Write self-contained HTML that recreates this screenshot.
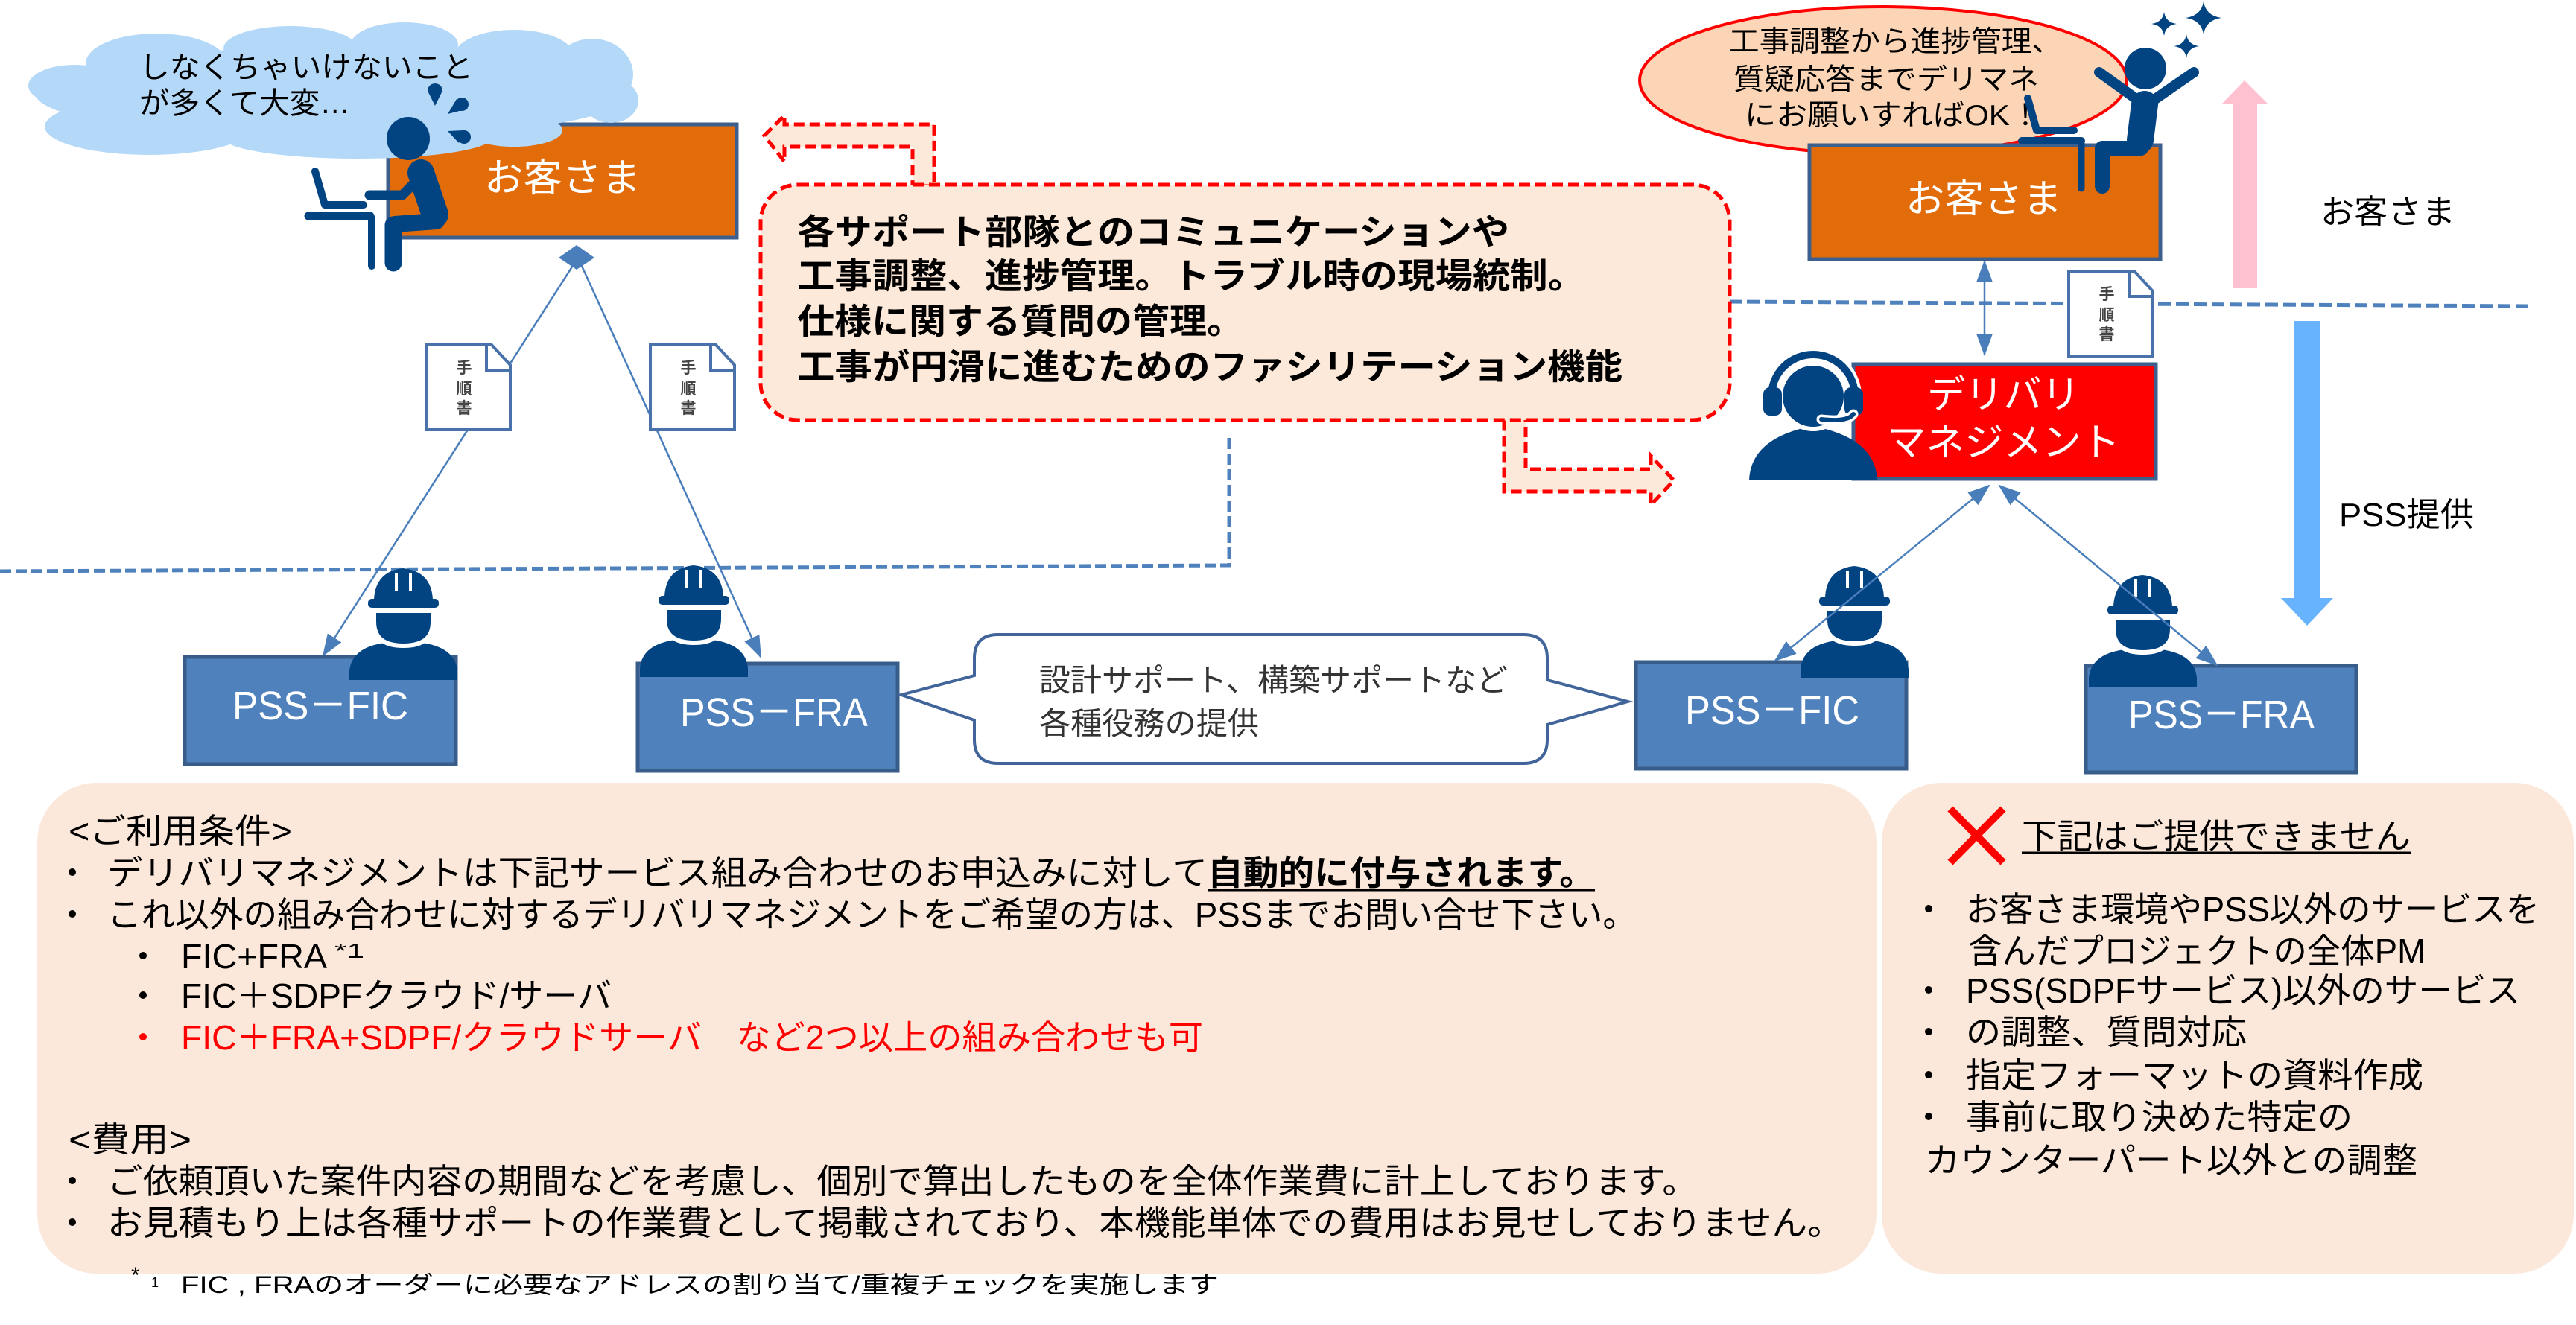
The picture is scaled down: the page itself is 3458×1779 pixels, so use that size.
<!DOCTYPE html>
<html><head><meta charset="utf-8">
<style>
html,body{margin:0;padding:0;background:#fff;}
svg{display:block;}
text{font-family:"Liberation Sans","Noto Sans CJK JP",sans-serif;}
</style></head><body>
<svg width="3458" height="1779" viewBox="0 0 3458 1779" xmlns="http://www.w3.org/2000/svg">
<defs>
<marker id="a" viewBox="0 0 30 22" markerWidth="30" markerHeight="22" refX="28" refY="11" orient="auto-start-reverse" markerUnits="userSpaceOnUse"><path d="M0,0L30,11L0,22Z" fill="#4a7ebb"/></marker>
<g id="wk" fill="#024382">
 <path d="M0,150 L0,138 Q3,106 48,100 L97,100 Q142,106 145,138 L145,150 Z"/>
 <path d="M33,57 L112,57 L112,72 Q112,104 72.5,104 Q33,104 33,72 Z" stroke="#fff" stroke-width="6"/>
 <path d="M33,42 Q35,4 72,0 Q110,4 112,42 Z"/>
 <rect x="25" y="41" width="95" height="12" rx="5"/>
 <path d="M63,6 L63,30 M82,6 L82,30" stroke="#fff" stroke-width="4"/>
</g>
<g id="doc">
 <path d="M0,0 H88 L113,27 V114 H0 Z" fill="#fff" stroke="#4a72aa" stroke-width="4"/>
 <path d="M81,2 V34 H111" fill="none" stroke="#4a72aa" stroke-width="4"/>
 <text x="51" y="38" font-size="21" font-weight="bold" fill="#444" text-anchor="middle">手</text>
 <text x="51" y="66" font-size="21" font-weight="bold" fill="#444" text-anchor="middle">順</text>
 <text x="51" y="92" font-size="21" font-weight="bold" fill="#444" text-anchor="middle">書</text>
</g>
</defs>

<!-- bottom panels -->
<rect x="50" y="1051" width="2469" height="659" rx="80" fill="#fce8da"/>
<rect x="2526" y="1051" width="929" height="659" rx="80" fill="#fce8da"/>

<!-- dashed blue lines -->
<polyline points="0,767 1650,759 1650,583" fill="none" stroke="#4f81bd" stroke-width="5" stroke-dasharray="15 6"/>
<line x1="2321" y1="405" x2="3400" y2="411" stroke="#4f81bd" stroke-width="5" stroke-dasharray="17 7"/>

<!-- left customer box -->
<rect x="521" y="167" width="468" height="152" fill="#e36c0a" stroke="#3d5f8d" stroke-width="5"/>
<!-- cloud -->
<g fill="#b4d8f8">
 <ellipse cx="447" cy="125" rx="400" ry="62"/>
 <ellipse cx="210" cy="85" rx="95" ry="40"/>
 <ellipse cx="390" cy="65" rx="90" ry="30"/>
 <ellipse cx="543" cy="60" rx="72" ry="30"/>
 <ellipse cx="690" cy="75" rx="80" ry="35"/>
 <ellipse cx="795" cy="100" rx="55" ry="48"/>
 <ellipse cx="820" cy="135" rx="37" ry="30"/>
 <ellipse cx="100" cy="115" rx="62" ry="28"/>
 <ellipse cx="200" cy="170" rx="140" ry="38"/>
 <ellipse cx="480" cy="185" rx="180" ry="28"/>
 <ellipse cx="690" cy="175" rx="65" ry="22"/>
</g>
<text x="187" y="104" font-size="40" textLength="448" lengthAdjust="spacingAndGlyphs">しなくちゃいけないこと</text>
<text x="187" y="152" font-size="40" textLength="283" lengthAdjust="spacingAndGlyphs">が多くて大変…</text>
<text x="650" y="257" font-size="52" fill="#fff" textLength="210" lengthAdjust="spacingAndGlyphs">お客さま</text>

<!-- sitting person left -->
<g stroke="#024382" stroke-linecap="round" fill="none">
 <path d="M423,230 L436,275 L488,275" stroke-width="10" stroke-linejoin="round"/>
 <line x1="414" y1="290" x2="497" y2="290" stroke-width="11"/>
 <line x1="499" y1="293" x2="499" y2="357" stroke-width="10"/>
 <line x1="565" y1="232" x2="584" y2="288" stroke-width="36"/>
 <path d="M562,240 L540,262 L496,262" stroke-width="13" stroke-linejoin="round"/>
 <line x1="530" y1="301" x2="586" y2="297" stroke-width="22"/>
 <line x1="528" y1="302" x2="528" y2="353" stroke-width="23"/>
</g>
<circle cx="548" cy="186" r="29" fill="#024382"/>
<g fill="#024382">
 <path d="M584,142 L574,122 A10,10 0 1 1 594,122 Z"/>
 <circle cx="620" cy="140" r="9"/><polygon points="601,153 613,133 628,146"/>
 <circle cx="623" cy="184" r="9"/><polygon points="601,176 622,175 616,192"/>
</g>

<!-- left connectors -->
<g stroke="#4a7ebb" stroke-width="2.5">
 <line x1="770" y1="355" x2="434" y2="880" marker-end="url(#a)"/>
 <line x1="780" y1="355" x2="1021" y2="882" marker-end="url(#a)"/>
</g>
<polygon points="774,329 798,346 774,362 750,346" fill="#4a7ebb"/>
<use href="#doc" x="572" y="463"/>
<use href="#doc" x="873" y="463"/>

<!-- callout arrows -->
<g fill="#fde9d9" stroke="#ff0000" stroke-width="5" stroke-dasharray="14 7">
 <polygon points="1026,182 1053,155 1053,167 1254,167 1254,250 1225,250 1225,197 1053,197 1053,217"/>
 <polygon points="2019,560 2048,560 2048,630 2216,630 2216,612 2247,645 2216,678 2216,660 2019,660"/>
</g>
<rect x="1021" y="248" width="1301" height="316" rx="50" fill="#fde9d9" stroke="#ff0000" stroke-width="5" stroke-dasharray="15 7"/>
<g font-size="47" font-weight="bold">
 <text x="1070" y="328" textLength="956" lengthAdjust="spacingAndGlyphs">各サポート部隊とのコミュニケーションや</text>
 <text x="1070" y="387" textLength="1058" lengthAdjust="spacingAndGlyphs">工事調整、進捗管理。トラブル時の現場統制。</text>
 <text x="1070" y="448" textLength="600" lengthAdjust="spacingAndGlyphs">仕様に関する質問の管理。</text>
 <text x="1070" y="509" textLength="1108" lengthAdjust="spacingAndGlyphs">工事が円滑に進むためのファシリテーション機能</text>
</g>

<!-- right top -->
<ellipse cx="2528" cy="108" rx="327" ry="99" fill="#fbd5b5" stroke="#ff0000" stroke-width="4"/>
<g font-size="39">
 <text x="2321" y="69" textLength="447" lengthAdjust="spacingAndGlyphs">工事調整から進捗管理、</text>
 <text x="2327" y="120" textLength="410" lengthAdjust="spacingAndGlyphs">質疑応答までデリマネ</text>
 <text x="2342" y="168" textLength="398" lengthAdjust="spacingAndGlyphs">にお願いすればOK！</text>
</g>
<rect x="2429" y="195" width="471" height="153" fill="#e36c0a" stroke="#3d5f8d" stroke-width="5"/>
<text x="2558" y="285" font-size="52" fill="#fff" textLength="210" lengthAdjust="spacingAndGlyphs">お客さま</text>
<!-- arms up person -->
<g stroke="#024382" stroke-linecap="round" fill="none">
 <path d="M2722,132 L2734,175 L2784,175" stroke-width="10" stroke-linejoin="round"/>
 <line x1="2714" y1="189" x2="2794" y2="189" stroke-width="10"/>
 <line x1="2794" y1="191" x2="2794" y2="253" stroke-width="9"/>
 <line x1="2818" y1="97" x2="2868" y2="133" stroke-width="14"/>
 <line x1="2945" y1="97" x2="2893" y2="133" stroke-width="14"/>
 <line x1="2879" y1="140" x2="2873" y2="188" stroke-width="36"/>
 <line x1="2822" y1="199" x2="2874" y2="199" stroke-width="20"/>
 <line x1="2822" y1="200" x2="2822" y2="250" stroke-width="20"/>
</g>
<circle cx="2880" cy="92" r="28" fill="#024382"/>
<g fill="#024382">
 <path d="M2958,2 Q2961,21 2982,24 Q2961,27 2958,46 Q2955,27 2934,24 Q2955,21 2958,2 Z"/>
 <path d="M2905,16 Q2907,30 2922,32 Q2907,34 2905,48 Q2903,34 2888,32 Q2903,30 2905,16 Z"/>
 <path d="M2935,46 Q2937,60 2952,62 Q2937,64 2935,78 Q2933,64 2918,62 Q2933,60 2935,46 Z"/>
</g>
<!-- pink & blue arrows -->
<polygon points="3013,108 3045,140 3030,140 3030,387 2998,387 2998,140 2982,140" fill="#ffc1cf"/>
<polygon points="3079,431 3114,431 3114,803 3132,803 3097,840 3062,803 3079,803" fill="#67b3fe"/>
<text x="3115" y="300" font-size="45" textLength="181" lengthAdjust="spacingAndGlyphs">お客さま</text>
<text x="3140" y="706" font-size="44" textLength="181" lengthAdjust="spacingAndGlyphs">PSS提供</text>

<!-- delivery -->
<rect x="2488" y="489" width="406" height="154" fill="#ff0000" stroke="#3d5f8d" stroke-width="5"/>
<text x="2587" y="548" font-size="52" fill="#fff" textLength="205" lengthAdjust="spacingAndGlyphs">デリバリ</text>
<text x="2533" y="612" font-size="52" fill="#fff" textLength="313" lengthAdjust="spacingAndGlyphs">マネジメント</text>
<g fill="#024382">
 <path d="M2348,645 Q2350,588 2433,572 Q2518,588 2520,645 Z"/>
 <circle cx="2434" cy="532" r="44" stroke="#fff" stroke-width="6"/>
 <path d="M2378,532 A56,56 0 0 1 2490,532" fill="none" stroke="#fff" stroke-width="18"/>
 <path d="M2378,532 A56,56 0 0 1 2490,532" fill="none" stroke="#024382" stroke-width="10"/>
 <rect x="2367" y="520" width="25" height="38" rx="9"/>
 <rect x="2476" y="520" width="25" height="38" rx="9"/>
 <path d="M2488,556 Q2480,567 2445,563" fill="none" stroke="#fff" stroke-width="13" stroke-linecap="round"/>
 <path d="M2488,556 Q2480,567 2445,563" fill="none" stroke="#024382" stroke-width="6" stroke-linecap="round"/>
</g>
<use href="#doc" x="2777" y="364"/>

<!-- right connectors -->
<g stroke="#4a7ebb" stroke-width="2.5">
 <line x1="2664" y1="351" x2="2664" y2="476" marker-start="url(#a)" marker-end="url(#a)"/>
</g>

<!-- PSS boxes -->
<g fill="#4f81bd" stroke="#385d8a" stroke-width="5">
 <rect x="248" y="882" width="364" height="144"/>
 <rect x="856" y="891" width="349" height="144"/>
 <rect x="2196" y="889" width="363" height="143"/>
 <rect x="2800" y="894" width="363" height="143"/>
</g>
<g font-size="54" fill="#fff">
 <text x="312" y="966" textLength="236" lengthAdjust="spacingAndGlyphs">PSS－FIC</text>
 <text x="913" y="975" textLength="252" lengthAdjust="spacingAndGlyphs">PSS－FRA</text>
 <text x="2262" y="972" textLength="234" lengthAdjust="spacingAndGlyphs">PSS－FIC</text>
 <text x="2857" y="978" textLength="250" lengthAdjust="spacingAndGlyphs">PSS－FRA</text>
</g>
<use href="#wk" x="469" y="763"/>
<use href="#wk" x="859" y="759"/>
<use href="#wk" x="2417" y="760"/>
<use href="#wk" x="2804" y="772"/>
<g stroke="#4a7ebb" stroke-width="2.5">
 <line x1="2383" y1="887" x2="2670" y2="652" marker-start="url(#a)" marker-end="url(#a)"/>
 <line x1="2976" y1="893" x2="2684" y2="652" marker-start="url(#a)" marker-end="url(#a)"/>
</g>

<!-- speech bubble -->
<path d="M1340,852 H2045 Q2077,852 2077,884 V913 L2185,942 L2077,973 V993 Q2077,1025 2045,1025 H1340 Q1308,1025 1308,993 V967 L1210,933 L1308,907 V884 Q1308,852 1340,852 Z" fill="#fff" stroke="#41659a" stroke-width="4"/>
<text x="1395" y="928" font-size="42" fill="#333" textLength="629" lengthAdjust="spacingAndGlyphs">設計サポート、構築サポートなど</text>
<text x="1395" y="986" font-size="42" fill="#333" textLength="295" lengthAdjust="spacingAndGlyphs">各種役務の提供</text>

<!-- bottom left text -->
<g font-size="46" fill="#000">
 <text x="92" y="1132" textLength="300" lengthAdjust="spacingAndGlyphs">&lt;ご利用条件&gt;</text>
 <text x="144" y="1188" textLength="1477" lengthAdjust="spacingAndGlyphs">デリバリマネジメントは下記サービス組み合わせのお申込みに対して</text>
 <text x="1621" y="1188" font-weight="bold" textLength="520" lengthAdjust="spacingAndGlyphs">自動的に付与されます。</text>
 <text x="144" y="1244" textLength="2053" lengthAdjust="spacingAndGlyphs">これ以外の組み合わせに対するデリバリマネジメントをご希望の方は、PSSまでお問い合せ下さい。</text>
 <text x="243" y="1300" textLength="196" lengthAdjust="spacingAndGlyphs">FIC+FRA</text>
 <text x="449" y="1286" font-size="28" textLength="40" lengthAdjust="spacingAndGlyphs">*1</text>
 <text x="243" y="1353" textLength="578" lengthAdjust="spacingAndGlyphs">FIC＋SDPFクラウド/サーバ</text>
 <text x="243" y="1409" fill="#ff0000" textLength="1372" lengthAdjust="spacingAndGlyphs">FIC＋FRA+SDPF/クラウドサーバ　など2つ以上の組み合わせも可</text>
 <text x="92" y="1546" textLength="165" lengthAdjust="spacingAndGlyphs">&lt;費用&gt;</text>
 <text x="144" y="1602" textLength="2135" lengthAdjust="spacingAndGlyphs">ご依頼頂いた案件内容の期間などを考慮し、個別で算出したものを全体作業費に計上しております。</text>
 <text x="144" y="1658" textLength="2330" lengthAdjust="spacingAndGlyphs">お見積もり上は各種サポートの作業費として掲載されており、本機能単体での費用はお見せしておりません。</text>
</g>
<line x1="1621" y1="1195" x2="2141" y2="1195" stroke="#000" stroke-width="3"/>
<g fill="#000">
 <circle cx="97" cy="1171" r="5"/><circle cx="97" cy="1227" r="5"/>
 <circle cx="192" cy="1283" r="5"/><circle cx="192" cy="1336" r="5"/>
 <circle cx="192" cy="1392" r="5" fill="#ff0000"/>
 <circle cx="97" cy="1585" r="5"/><circle cx="97" cy="1641" r="5"/>
</g>
<text x="176" y="1722" font-size="30">*</text>
<text x="203" y="1728" font-size="18">1</text>
<text x="243" y="1736" font-size="32" textLength="1393" lengthAdjust="spacingAndGlyphs">FIC , FRAのオーダーに必要なアドレスの割り当て/重複チェックを実施します</text>

<!-- bottom right text -->
<g stroke="#ff0000" stroke-width="10">
 <line x1="2618" y1="1086" x2="2689" y2="1158"/>
 <line x1="2689" y1="1086" x2="2618" y2="1158"/>
</g>
<g font-size="46" fill="#000">
 <text x="2714" y="1139" textLength="522" lengthAdjust="spacingAndGlyphs">下記はご提供できません</text>
 <text x="2639" y="1237" textLength="770" lengthAdjust="spacingAndGlyphs">お客さま環境やPSS以外のサービスを</text>
 <text x="2642" y="1293" textLength="614" lengthAdjust="spacingAndGlyphs">含んだプロジェクトの全体PM</text>
 <text x="2639" y="1346" textLength="744" lengthAdjust="spacingAndGlyphs">PSS(SDPFサービス)以外のサービス</text>
 <text x="2639" y="1402" textLength="377" lengthAdjust="spacingAndGlyphs">の調整、質問対応</text>
 <text x="2639" y="1460" textLength="614" lengthAdjust="spacingAndGlyphs">指定フォーマットの資料作成</text>
 <text x="2639" y="1516" textLength="519" lengthAdjust="spacingAndGlyphs">事前に取り決めた特定の</text>
 <text x="2584" y="1574" textLength="661" lengthAdjust="spacingAndGlyphs">カウンターパート以外との調整</text>
</g>
<line x1="2714" y1="1145" x2="3236" y2="1145" stroke="#000" stroke-width="3"/>
<g fill="#000">
 <circle cx="2589" cy="1220" r="5"/><circle cx="2589" cy="1329" r="5"/>
 <circle cx="2589" cy="1385" r="5"/><circle cx="2589" cy="1443" r="5"/>
 <circle cx="2589" cy="1499" r="5"/>
</g>
</svg>
</body></html>
